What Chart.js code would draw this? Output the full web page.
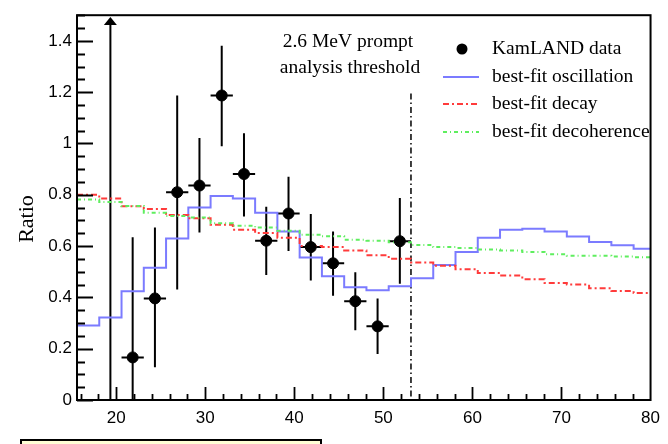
<!DOCTYPE html>
<html>
<head>
<meta charset="utf-8">
<script src="https://cdn.jsdelivr.net/npm/chart.js@4.4.0/dist/chart.umd.min.js"></script>
<style>
  html, body { margin: 0; padding: 0; background: #fff; }
  #wrap { width: 668px; height: 444px; }
</style>
</head>
<body>
<div id="wrap"><canvas id="grafico" width="668" height="444"></canvas></div>
<script>
// --- DATOS ---
const xMin = 15.6;
const xMax = 80;
const yMin = 0;
const yMax = 1.5;

// bordes izquierdos de cada bin (ancho 2.5)
const binEdges = [15.6, 18.1, 20.6, 23.1, 25.6, 28.1, 30.6, 33.1, 35.6, 38.1, 40.6, 43.1, 45.6,
                  48.1, 50.6, 53.1, 55.6, 58.1, 60.6, 63.1, 65.6, 68.1, 70.6, 73.1, 75.6, 78.1];

const oscillation = [0.290, 0.322, 0.424, 0.516, 0.630, 0.750, 0.795, 0.785, 0.730, 0.657, 0.555, 0.482, 0.440,
                     0.428, 0.443, 0.475, 0.526, 0.577, 0.632, 0.664, 0.668, 0.657, 0.637, 0.616, 0.603, 0.590];
const decay = [0.800, 0.785, 0.755, 0.745, 0.721, 0.708, 0.683, 0.664, 0.651, 0.632, 0.600, 0.596, 0.583,
               0.564, 0.551, 0.536, 0.523, 0.510, 0.495, 0.485, 0.471, 0.456, 0.450, 0.436, 0.425, 0.417];
const decoherence = [0.782, 0.772, 0.756, 0.730, 0.717, 0.711, 0.689, 0.679, 0.672, 0.660, 0.644, 0.638, 0.625,
                     0.621, 0.615, 0.604, 0.596, 0.593, 0.587, 0.583, 0.577, 0.568, 0.562, 0.562, 0.559, 0.556];

// datos KamLAND (centro del bin, valor, extremos de la barra de error)
const dataX    = [21.85, 24.35, 26.85, 29.35, 31.85, 34.35, 36.85, 39.35, 41.85, 44.35, 46.85, 49.35, 51.85];
const dataY    = [0.166, 0.396, 0.810, 0.836, 1.187, 0.881, 0.621, 0.727, 0.596, 0.533, 0.385, 0.287, 0.619];
const dataHigh = [0.634, 0.672, 1.187, 1.021, 1.381, 1.040, 0.753, 0.870, 0.725, 0.657, 0.498, 0.396, 0.787];
const dataLow  = [0.000, 0.128, 0.431, 0.653, 0.989, 0.715, 0.487, 0.581, 0.466, 0.406, 0.272, 0.179, 0.453];
const halfBin = 1.25;

// bin fuera de escala (flecha)
const arrowX = [19.35];
const arrowLow = [0];
const arrowHigh = [1.493];

// umbral de análisis
const thresholdX = 53.1;
const thresholdTop = 1.195;

const legendLabels = ['KamLAND data', 'best-fit oscillation', 'best-fit decay', 'best-fit decoherence'];
const noteLines = ['2.6 MeV prompt', 'analysis threshold'];

// --- ESTILOS ---
const serif = '"Liberation Serif", "Times New Roman", serif';
const sans = '"Liberation Sans", Arial, sans-serif';
const colBlue = '#7b7bff';
const colRed = '#ff3b3b';
const colGreen = '#5fee5f';
const dashRed = [6, 3, 2, 3];
const dashGreen = [4, 3, 1, 3];

function histPoints(vals) {
    const pts = binEdges.map((e, i) => ({ x: e, y: vals[i] }));
    pts.push({ x: xMax, y: vals[vals.length - 1] });
    return pts;
}

// --- PLUGIN: barras de error, marco, ticks internos, leyenda, textos ---
const extrasPlugin = {
    id: 'extras',
    beforeDatasetsDraw(chart) {
        const ctx = chart.ctx;
        const sx = chart.scales.x, sy = chart.scales.y;
        ctx.save();
        ctx.strokeStyle = '#000';
        ctx.lineWidth = 2;
        // barras de error
        dataX.forEach((x, i) => {
            const px = sx.getPixelForValue(x);
            ctx.beginPath();
            ctx.moveTo(px, sy.getPixelForValue(dataLow[i]));
            ctx.lineTo(px, sy.getPixelForValue(dataHigh[i]));
            ctx.moveTo(sx.getPixelForValue(x - halfBin), sy.getPixelForValue(dataY[i]));
            ctx.lineTo(sx.getPixelForValue(x + halfBin), sy.getPixelForValue(dataY[i]));
            ctx.stroke();
        });
        // flecha
        arrowX.forEach((x, i) => {
            const px = sx.getPixelForValue(x);
            const top = sy.getPixelForValue(arrowHigh[i]);
            ctx.beginPath();
            ctx.moveTo(px, sy.getPixelForValue(arrowLow[i]));
            ctx.lineTo(px, top + 4);
            ctx.stroke();
            ctx.fillStyle = '#000';
            ctx.beginPath();
            ctx.moveTo(px, top);
            ctx.lineTo(px - 6.5, top + 8);
            ctx.lineTo(px + 6.5, top + 8);
            ctx.closePath();
            ctx.fill();
        });
        // línea de umbral
        const tx = sx.getPixelForValue(thresholdX);
        ctx.lineWidth = 1.5;
        ctx.setLineDash([6, 3, 1.5, 3]);
        ctx.beginPath();
        ctx.moveTo(tx, sy.getPixelForValue(thresholdTop));
        ctx.lineTo(tx, sy.getPixelForValue(0));
        ctx.stroke();
        ctx.restore();
    },
    afterDraw(chart) {
        const ctx = chart.ctx;
        const a = chart.chartArea;
        const sx = chart.scales.x, sy = chart.scales.y;
        ctx.save();
        // marco
        ctx.strokeStyle = '#000';
        ctx.lineWidth = 2;
        ctx.strokeRect(a.left, a.top, a.right - a.left, a.bottom - a.top);

        // ticks internos eje Y (mayores cada 0.2, menores cada 0.05)
        ctx.lineWidth = 1.8;
        ctx.beginPath();
        for (let k = 0; k <= 30; k++) {
            const v = k * 0.05;
            const py = Math.round(sy.getPixelForValue(v)) + 0.5;
            const len = (k % 4 === 0) ? 16 : 8;
            ctx.moveTo(a.left, py);
            ctx.lineTo(a.left + len, py);
        }
        // ticks internos eje X (mayores cada 10, menores cada 2)
        for (let v = 16; v < xMax; v += 2) {
            const px = Math.round(sx.getPixelForValue(v)) + 0.5;
            const len = (v % 10 === 0) ? 13 : 6;
            ctx.moveTo(px, a.bottom);
            ctx.lineTo(px, a.bottom - len);
        }
        ctx.stroke();

        // título eje Y
        ctx.fillStyle = '#000';
        ctx.save();
        ctx.translate(27, 219);
        ctx.rotate(-Math.PI / 2);
        ctx.font = '22px ' + serif;
        ctx.textAlign = 'center';
        ctx.textBaseline = 'middle';
        ctx.fillText('Ratio', 0, 0);
        ctx.restore();

        // nota del umbral
        ctx.font = '19.5px ' + serif;
        ctx.textAlign = 'center';
        ctx.textBaseline = 'middle';
        ctx.fillText(noteLines[0], 348, 42);
        ctx.fillText(noteLines[1], 350, 68);

        // leyenda
        const lx0 = 443, lx1 = 479, tx = 492;
        const rows = [49, 77, 104, 132];
        ctx.textAlign = 'left';
        ctx.font = '19.5px ' + serif;
        legendLabels.forEach((t, i) => ctx.fillText(t, tx, rows[i]));
        ctx.beginPath();
        ctx.arc(462, rows[0], 5.5, 0, Math.PI * 2);
        ctx.fill();
        const styles = [[colBlue, []], [colRed, dashRed], [colGreen, dashGreen]];
        styles.forEach((s, i) => {
            ctx.strokeStyle = s[0];
            ctx.setLineDash(s[1]);
            ctx.lineWidth = 2;
            ctx.beginPath();
            ctx.moveTo(lx0, rows[i + 1]);
            ctx.lineTo(lx1, rows[i + 1]);
            ctx.stroke();
        });
        ctx.setLineDash([]);

        // recuadro amarillo inferior (cortado)
        ctx.fillStyle = '#ffffd6';
        ctx.fillRect(21, 440, 300, 10);
        ctx.strokeStyle = '#000';
        ctx.lineWidth = 2;
        ctx.strokeRect(21, 440, 300, 10);
        ctx.restore();
    }
};

// --- GRÁFICO ---
const ctx = document.getElementById('grafico').getContext('2d');
const grafico = new Chart(ctx, {
    type: 'scatter',
    data: {
        datasets: [
            {
                label: legendLabels[0],
                data: dataX.map((x, i) => ({ x: x, y: dataY[i] })),
                pointRadius: 5.5,
                pointBackgroundColor: '#000',
                pointBorderColor: '#000',
                showLine: false,
                order: 0
            },
            {
                label: legendLabels[1],
                type: 'line',
                data: histPoints(oscillation),
                stepped: 'before',
                borderColor: colBlue,
                borderWidth: 2,
                pointRadius: 0,
                fill: false,
                order: 3
            },
            {
                label: legendLabels[2],
                type: 'line',
                data: histPoints(decay),
                stepped: 'before',
                borderColor: colRed,
                borderDash: dashRed,
                borderWidth: 2,
                pointRadius: 0,
                fill: false,
                order: 2
            },
            {
                label: legendLabels[3],
                type: 'line',
                data: histPoints(decoherence),
                stepped: 'before',
                borderColor: colGreen,
                borderDash: dashGreen,
                borderWidth: 2,
                pointRadius: 0,
                fill: false,
                order: 1
            }
        ]
    },
    options: {
        responsive: false,
        animation: false,
        layout: { padding: { top: 8, right: 9.7, left: 0, bottom: 0 } },
        plugins: {
            legend: { display: false },
            tooltip: { enabled: false }
        },
        scales: {
            x: {
                type: 'linear',
                min: xMin,
                max: xMax,
                grid: { display: false, drawTicks: false },
                border: { display: false },
                ticks: {
                    stepSize: 10,
                    includeBounds: false,
                    autoSkip: false,
                    maxRotation: 0,
                    color: '#000',
                    padding: 8,
                    font: { family: sans, size: 17 }
                },
                afterFit: s => { s.height = 44; }
            },
            y: {
                min: yMin,
                max: yMax,
                grid: { display: false, drawTicks: false },
                border: { display: false },
                ticks: {
                    stepSize: 0.2,
                    includeBounds: false,
                    color: '#000',
                    padding: 5,
                    font: { family: sans, size: 17 },
                    callback: v => String(+v.toFixed(1))
                },
                afterFit: s => { s.width = 77; }
            }
        }
    },
    plugins: [extrasPlugin]
});
</script>
</body>
</html>
